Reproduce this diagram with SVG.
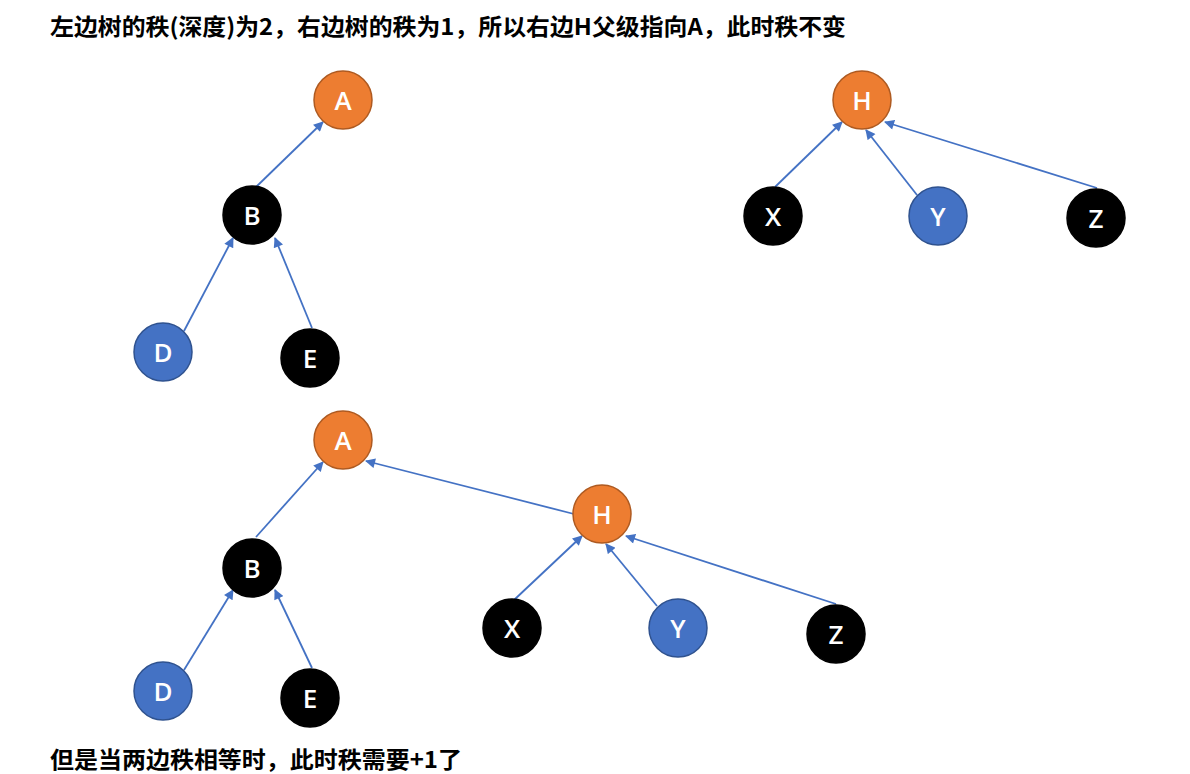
<svg xmlns="http://www.w3.org/2000/svg" width="1190" height="774" viewBox="0 0 1190 774">
<style>
.lbl{font-family:"Noto Sans CJK SC","Noto Sans",sans-serif;font-weight:bold;font-size:23px;fill:#000}
.o{fill:#ED7D31;stroke:#AE5A21;stroke-width:1.5}
.b{fill:#4472C4;stroke:#2F528F;stroke-width:1.5}
.k{fill:#000;stroke:#000;stroke-width:1.5}
.t{font-family:"Open Sans","Noto Sans",sans-serif;font-size:26px;font-weight:600;fill:#fff;text-anchor:middle;dominant-baseline:central}
.e{stroke:#4472C4;stroke-width:1.8;fill:none;marker-end:url(#ah)}
</style>
<defs>
<marker id="ah" viewBox="0 0 10 10" refX="9" refY="5" markerWidth="11" markerHeight="10" markerUnits="userSpaceOnUse" orient="auto">
<path d="M0,0 L10,5 L0,10 z" fill="#4472C4"/>
</marker>
</defs>
<rect width="1190" height="774" fill="#fff"/>
<text class="lbl" x="50" y="35" textLength="796" lengthAdjust="spacingAndGlyphs">左边树的秩(深度)为2，右边树的秩为1，所以右边H父级指向A，此时秩不变</text>
<text class="lbl" x="50" y="768" textLength="412" lengthAdjust="spacingAndGlyphs">但是当两边秩相等时，此时秩需要+1了</text>
<g id="connectors">
<line class="e" x1="256" y1="187" x2="323" y2="122"/>
<line class="e" x1="184" y1="331" x2="233" y2="238"/>
<line class="e" x1="312" y1="328" x2="275" y2="238"/>
<line class="e" x1="775" y1="187" x2="842" y2="122"/>
<line class="e" x1="917" y1="195" x2="866" y2="130"/>
<line class="e" x1="1097" y1="188" x2="885" y2="122"/>
<line class="e" x1="256" y1="537" x2="323" y2="462"/>
<line class="e" x1="574" y1="514" x2="366" y2="461"/>
<line class="e" x1="184" y1="670" x2="233" y2="590"/>
<line class="e" x1="312" y1="668" x2="275" y2="590"/>
<line class="e" x1="514" y1="600" x2="582" y2="536"/>
<line class="e" x1="657" y1="606" x2="606" y2="544"/>
<line class="e" x1="836" y1="604" x2="626" y2="536"/>
</g>
<g id="nA1"><circle class="o" cx="343" cy="100" r="29"/><text class="t" x="343" y="100">A</text></g>
<g id="nB1"><circle class="k" cx="252" cy="215" r="29"/><text class="t" x="252" y="215">B</text></g>
<g id="nD1"><circle class="b" cx="163" cy="352" r="29"/><text class="t" x="163" y="352">D</text></g>
<g id="nE1"><circle class="k" cx="310" cy="358" r="29"/><text class="t" x="310" y="358">E</text></g>
<g id="nH1"><circle class="o" cx="862" cy="100" r="29"/><text class="t" x="862" y="100">H</text></g>
<g id="nX1"><circle class="k" cx="773" cy="216" r="29"/><text class="t" x="773" y="216">X</text></g>
<g id="nY1"><circle class="b" cx="938" cy="216" r="29"/><text class="t" x="938" y="216">Y</text></g>
<g id="nZ1"><circle class="k" cx="1096" cy="218" r="29"/><text class="t" x="1096" y="218">Z</text></g>
<g id="nA2"><circle class="o" cx="343" cy="440" r="29"/><text class="t" x="343" y="440">A</text></g>
<g id="nB2"><circle class="k" cx="252" cy="568" r="29"/><text class="t" x="252" y="568">B</text></g>
<g id="nD2"><circle class="b" cx="163" cy="691" r="29"/><text class="t" x="163" y="691">D</text></g>
<g id="nE2"><circle class="k" cx="310" cy="698" r="29"/><text class="t" x="310" y="698">E</text></g>
<g id="nH2"><circle class="o" cx="602" cy="514" r="29"/><text class="t" x="602" y="514">H</text></g>
<g id="nX2"><circle class="k" cx="512" cy="628" r="29"/><text class="t" x="512" y="628">X</text></g>
<g id="nY2"><circle class="b" cx="678" cy="628" r="29"/><text class="t" x="678" y="628">Y</text></g>
<g id="nZ2"><circle class="k" cx="836" cy="634" r="29"/><text class="t" x="836" y="634">Z</text></g>
</svg>
